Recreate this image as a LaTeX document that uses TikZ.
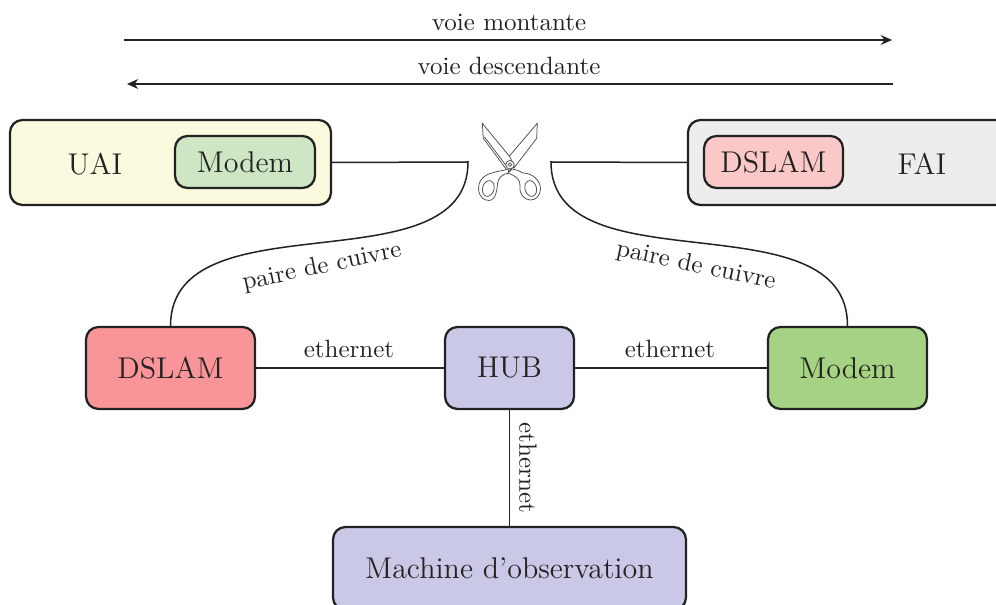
\documentclass[tikz,border=0pt]{standalone}
\usetikzlibrary{arrows.meta}
\definecolor{ink}{HTML}{222222}
\definecolor{cYellow}{HTML}{FBF9DE}
\definecolor{cLightGreen}{HTML}{CFE6C4}
\definecolor{cGrey}{HTML}{EDEDED}
\definecolor{cPink}{HTML}{FBC8C8}
\definecolor{cRed}{HTML}{F99598}
\definecolor{cGreen}{HTML}{A6D283}
\definecolor{cBlue}{HTML}{C9C8E6}
\tikzset{
  box/.style={draw=ink,line width=0.9pt,rounded corners=5pt,text=ink,inner sep=0pt,font=\fontsize{12}{14}\selectfont},
  conn/.style={draw=ink,line width=0.6pt},
  dir/.style={draw=ink,line width=0.6pt,-{Stealth[length=4.5pt,width=4pt,inset=1.5pt]}},
  lab/.style={text=ink,inner sep=0pt,font=\fontsize{10}{12}\selectfont},
  blade/.style={draw=ink!80,line width=0.3pt,fill=white},
}
\begin{document}
\begin{tikzpicture}[x=0.4pt,y=-0.4pt]
\useasboundingbox (0,0) rectangle (996,605);
\clip (0,0) rectangle (996,605);
% direction arrows
\coordinate (upA) at (124,40); \coordinate (upB) at (892,40);
\coordinate (downA) at (893,84); \coordinate (downB) at (127,84);
\draw[dir] (upA) -- (upB);
\draw[dir] (downA) -- (downB);
\node[lab] (lup) at (509,22) {voie montante};
\node[lab] (ldown) at (509,66) {voie descendante};
% upper boxes
\node[box,fill=cYellow,minimum width=128.4pt,minimum height=34pt] (uai) at (170.5,162.5) {};
\node[box,fill=cLightGreen,minimum width=56pt,minimum height=20.8pt] (modemin) at (245,162) {Modem};
\node[text=ink,inner sep=0pt,font=\fontsize{12}{14}\selectfont] (uailab) at (95,164) {UAI};
\node[box,fill=cGrey,minimum width=128pt,minimum height=34pt] (fai) at (848,162.5) {};
\node[box,fill=cPink,minimum width=55.6pt,minimum height=20.8pt] (dslamin) at (773.5,162) {DSLAM};
\node[text=ink,inner sep=0pt,font=\fontsize{12}{14}\selectfont] (failab) at (922,164) {FAI};
% lower boxes
\node[box,fill=cRed,minimum width=67.6pt,minimum height=32.8pt] (dslam) at (170.5,368) {DSLAM};
\node[box,fill=cBlue,minimum width=51.6pt,minimum height=32.8pt] (hub) at (509.5,368) {HUB};
\node[box,fill=cGreen,minimum width=63.6pt,minimum height=32.8pt] (modem) at (847.5,368) {Modem};
\node[box,fill=cBlue,minimum width=141.2pt,minimum height=33.2pt] (obs) at (509.5,568.5) {Machine d'observation};
% connectors
\coordinate (cutL) at (468,162);
\coordinate (cutR) at (551,162);
\draw[conn] (uai.east) -- (cutL) .. controls (468,290) and (171,195) .. (dslam.north);
\draw[conn] (fai.west) -- (cutR) .. controls (551,290) and (848,195) .. (modem.north);
\draw[conn] (dslam) -- (hub);
\draw[conn] (hub) -- (modem);
\draw[conn] (hub) -- (obs);
\node[lab,rotate=12] (pl) at (322,267) {paire de cuivre};
\node[lab,rotate=-12] (pr) at (696,266) {paire de cuivre};
\node[lab] (e1) at (349,349) {ethernet};
\node[lab] (e2) at (670,349) {ethernet};
\node[lab,rotate=-90] (e3) at (528,468) {ethernet};
% scissors
\draw[blade] (537.3,123.3) -- (536.7,138.3) -- (514,168) -- (506,160) -- cycle;
\draw[blade] (482.3,123.3) -- (483.3,138.3) -- (508.3,172) -- (514,166) -- (510,157) -- cycle;
\draw[draw=ink!80,line width=0.3pt] (484.5,137) -- (508,168);
\draw[blade] (508,169) .. controls (503,171) and (497,171) .. (492,173)
  .. controls (483,175) and (478,182) .. (478.5,189)
  .. controls (479,197) and (484,200.5) .. (489,200.5)
  .. controls (496,200) and (497,190) .. (497.5,184)
  .. controls (498,178) and (502,174) .. (509,173) -- cycle;
\draw[blade,rotate around={-15:(488.3,188.5)}] (488.3,188.5) ellipse [x radius=2.3pt, y radius=3.2pt];
\draw[blade] (512,169) .. controls (517,170) and (520,171) .. (523,173)
  .. controls (532,173) and (540.5,180) .. (540.5,189)
  .. controls (540.5,196) and (535,200.5) .. (530,200)
  .. controls (524,199.5) and (519,194) .. (520,186)
  .. controls (520,178) and (515,176) .. (508,173) -- cycle;
\draw[blade,rotate around={15:(530.7,188.5)}] (530.7,188.5) ellipse [x radius=2.3pt, y radius=3.2pt];
\draw[blade] (510,164.7) circle [radius=1.7pt];
\draw[blade] (510,164.7) circle [radius=0.7pt];
\end{tikzpicture}
\end{document}
